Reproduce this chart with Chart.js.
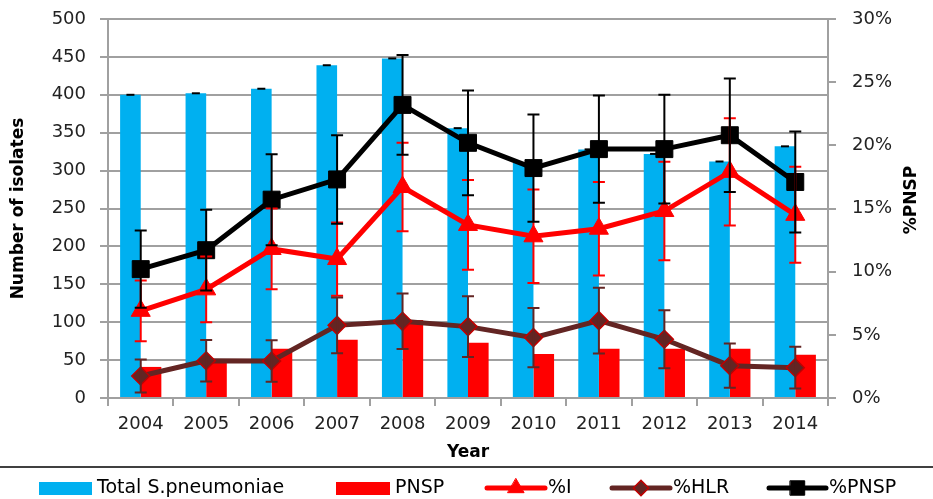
<!DOCTYPE html>
<html>
<head>
<meta charset="utf-8">
<script src="https://cdn.jsdelivr.net/npm/chart.js@4.4.1/dist/chart.umd.min.js"></script>
<style>
    html, body { margin: 0; padding: 0; background: #fff; }
</style>
</head>
<body>
<canvas id="isoladosPorAno" width="933" height="499"></canvas>
<script>
// Dados
const anos = ['2004', '2005', '2006', '2007', '2008', '2009', '2010', '2011', '2012', '2013', '2014'];
const totalIsolados = [400, 402, 408, 439, 448, 356, 310, 328, 322, 312, 332];
const isoladosPNSP = [41, 48, 65, 77, 103, 73, 58, 65, 65, 65, 57];
const pctI = [6.9, 8.6, 11.8, 11.0, 16.7, 13.7, 12.8, 13.4, 14.8, 17.9, 14.5];
const erroI = [2.4, 2.6, 3.2, 2.9, 3.5, 3.55, 3.7, 3.7, 3.9, 4.25, 3.8];
const pctHLR = [1.74, 2.95, 2.93, 5.75, 6.07, 5.65, 4.78, 6.12, 4.65, 2.56, 2.4];
const erroHLR = [1.3, 1.65, 1.65, 2.2, 2.2, 2.4, 2.35, 2.6, 2.3, 1.75, 1.65];
const pctPNSP = [10.2, 11.7, 15.7, 17.3, 23.2, 20.2, 18.2, 19.7, 19.7, 20.8, 17.1];
const erroPNSP = [3.05, 3.2, 3.6, 3.5, 3.95, 4.15, 4.25, 4.25, 4.3, 4.5, 4.0];

const cinza = '#a0a0a0';
const fonteTicks = { family: 'DejaVu Sans', size: 18 };
const fonteTitulo = { family: 'DejaVu Sans', size: 17, weight: 'bold' };

// Barras de erro desenhadas por cima dos datasets
const barrasDeErro = {
    id: 'barrasDeErro',
    afterDatasetsDraw(chart) {
        const ctx = chart.ctx;
        ctx.save();
        ctx.lineWidth = 2;
        chart.data.datasets.forEach((ds, i) => {
            const meta = chart.getDatasetMeta(i);
            const escala = chart.scales[meta.yAxisID];
            meta.data.forEach((el, j) => {
                const v = ds.data[j];
                const e = ds.erros ? ds.erros[j] : 0;
                const x = el.x;
                const yCima = escala.getPixelForValue(v + e);
                const yBaixo = escala.getPixelForValue(v - e);
                ctx.strokeStyle = ds.corErro;
                ctx.beginPath();
                if (ds.erros) {
                    ctx.moveTo(x, yCima); ctx.lineTo(x, yBaixo);
                    ctx.moveTo(x - 6, yCima); ctx.lineTo(x + 6, yCima);
                    ctx.moveTo(x - 6, yBaixo); ctx.lineTo(x + 6, yBaixo);
                } else if (ds.corErro) {
                    ctx.moveTo(x - 4, yCima); ctx.lineTo(x + 4, yCima);
                }
                ctx.stroke();
            });
        });
        ctx.restore();
    }
};

// Título do eixo direito, legenda e linha separadora
const extras = {
    id: 'extras',
    afterDraw(chart) {
        const ctx = chart.ctx;
        ctx.save();
        ctx.fillStyle = '#000';
        ctx.font = 'bold 17px "DejaVu Sans"';
        ctx.textAlign = 'center';
        ctx.textBaseline = 'middle';
        ctx.translate(912, 200);
        ctx.rotate(-Math.PI / 2);
        ctx.fillText('%PNSP', 0, 0);
        ctx.restore();

        ctx.save();
        ctx.strokeStyle = '#000';
        ctx.lineWidth = 1.5;
        ctx.beginPath();
        ctx.moveTo(0, 467); ctx.lineTo(933, 467);
        ctx.stroke();

        const yLeg = 488;
        ctx.font = '19px "DejaVu Sans"';
        ctx.textBaseline = 'middle';
        ctx.fillStyle = '#000';

        // itens de barra
        ctx.fillStyle = '#00B0F0';
        ctx.fillRect(39, yLeg - 6, 53, 13);
        ctx.fillStyle = '#000';
        ctx.fillText('Total S.pneumoniae', 97, yLeg);
        ctx.fillStyle = '#FF0000';
        ctx.fillRect(336, yLeg - 6, 54, 13);
        ctx.fillStyle = '#000';
        ctx.fillText('PNSP', 395, yLeg);

        // itens de linha
        const itensLinha = [
            { x0: 487, x1: 545, ds: 2, texto: '%I' },
            { x0: 612, x1: 670, ds: 3, texto: '%HLR' },
            { x0: 769, x1: 826, ds: 4, texto: '%PNSP' }
        ];
        itensLinha.forEach(item => {
            const ds = chart.data.datasets[item.ds];
            ctx.strokeStyle = ds.borderColor;
            ctx.lineWidth = 5;
            ctx.lineCap = 'round';
            ctx.beginPath();
            ctx.moveTo(item.x0, yLeg); ctx.lineTo(item.x1, yLeg);
            ctx.stroke();
            ctx.fillStyle = ds.pointBackgroundColor;
            ctx.strokeStyle = ds.pointBorderColor;
            ctx.lineWidth = ds.pointBorderWidth;
            Chart.helpers.drawPoint(ctx, { pointStyle: ds.pointStyle, radius: ds.pointRadius * 0.85, borderWidth: ds.pointBorderWidth }, (item.x0 + item.x1) / 2, yLeg);
            ctx.fillStyle = '#000';
            ctx.fillText(item.texto, item.x1 + 3, yLeg);
        });
        ctx.restore();
    }
};

const ctx = document.getElementById('isoladosPorAno').getContext('2d');
const chart = new Chart(ctx, {
    data: {
        labels: anos,
        datasets: [
            {
                type: 'bar',
                label: 'Total S.pneumoniae',
                data: totalIsolados,
                backgroundColor: '#00B0F0',
                yAxisID: 'y',
                order: 4,
                corErro: '#000'
            },
            {
                type: 'bar',
                label: 'PNSP',
                data: isoladosPNSP,
                backgroundColor: '#FF0000',
                yAxisID: 'y',
                order: 5
            },
            {
                type: 'line',
                label: '%I',
                data: pctI,
                erros: erroI,
                corErro: '#FF0000',
                borderColor: '#FF0000',
                borderWidth: 5,
                pointStyle: 'triangle',
                pointRadius: 11,
                pointBackgroundColor: '#FF0000',
                pointBorderColor: '#FF0000',
                pointBorderWidth: 1,
                yAxisID: 'y1',
                order: 3
            },
            {
                type: 'line',
                label: '%HLR',
                data: pctHLR,
                erros: erroHLR,
                corErro: '#632523',
                borderColor: '#632523',
                borderWidth: 5,
                pointStyle: 'rectRot',
                pointRadius: 9,
                pointBackgroundColor: '#632523',
                pointBorderColor: '#C00000',
                pointBorderWidth: 1.5,
                yAxisID: 'y1',
                order: 2
            },
            {
                type: 'line',
                label: '%PNSP',
                data: pctPNSP,
                erros: erroPNSP,
                corErro: '#000',
                borderColor: '#000',
                borderWidth: 5,
                pointStyle: 'rect',
                pointRadius: 12,
                pointBackgroundColor: '#000',
                pointBorderColor: '#000',
                pointBorderWidth: 1,
                yAxisID: 'y1',
                order: 1
            }
        ]
    },
    options: {
        responsive: false,
        animation: false,
        layout: { padding: { left: 0, right: 0, top: 19, bottom: 34 } },
        datasets: {
            bar: { categoryPercentage: 0.63, barPercentage: 1 }
        },
        plugins: {
            legend: { display: false },
            tooltip: { enabled: false }
        },
        scales: {
            x: {
                grid: { drawOnChartArea: false, offset: true, tickLength: 8, color: cinza, lineWidth: 2 },
                border: { color: cinza, width: 2 },
                ticks: { font: fonteTicks, color: '#222', padding: 8, maxRotation: 0 },
                title: { display: true, text: 'Year', font: fonteTitulo, color: '#000', padding: { top: 0, bottom: 2 } },
                afterFit: s => { s.height = 67; s.paddingLeft = 0; s.paddingRight = 0; }
            },
            y: {
                position: 'left',
                min: 0,
                max: 500,
                ticks: { stepSize: 50, font: fonteTicks, color: '#222', padding: 14 },
                grid: { color: cinza, lineWidth: 2, tickLength: 8 },
                border: { color: cinza, width: 2 },
                title: { display: true, text: 'Number of isolates', font: fonteTitulo, color: '#000', padding: { top: 8, bottom: 0 } },
                afterFit: s => { s.width = 108; s.paddingTop = 0; s.paddingBottom = 0; }
            },
            y1: {
                position: 'right',
                min: 0,
                max: 30,
                ticks: { stepSize: 5, font: fonteTicks, color: '#222', padding: 16, callback: v => v + '%' },
                grid: { drawOnChartArea: false, color: cinza, lineWidth: 2, tickLength: 8 },
                border: { color: cinza, width: 2 },
                afterFit: s => { s.width = 105; s.paddingTop = 0; s.paddingBottom = 0; }
            }
        }
    },
    plugins: [barrasDeErro, extras]
});
</script>
</body>
</html>
